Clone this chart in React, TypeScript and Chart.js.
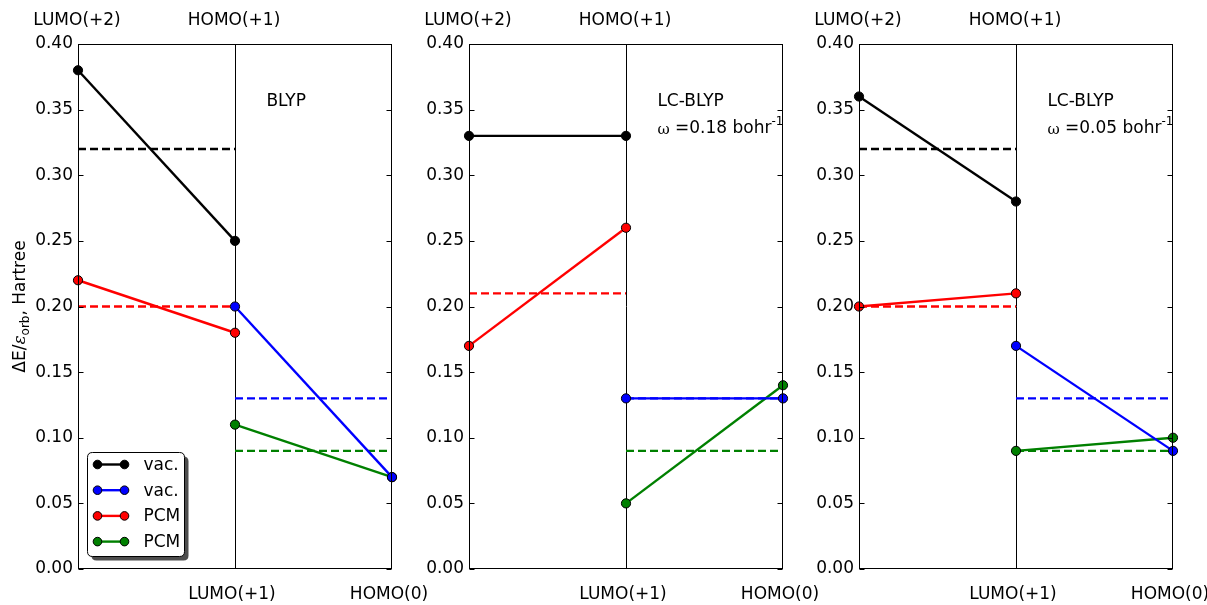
import React, { useEffect, useRef } from "react";
import { Chart, registerables } from "chart.js";

Chart.register(...registerables);

// ---------- data ----------
const X_TOP_TICKS = [0, 1];
const X_TOP_LABELS = ["LUMO(+2)", "HOMO(+1)"];
const X_BOTTOM_TICKS = [1, 2];
const X_BOTTOM_LABELS = ["LUMO(+1)", "HOMO(0)"];
const Y_TICKS = [0, 0.05, 0.1, 0.15, 0.2, 0.25, 0.3, 0.35, 0.4];

const LEFT_X = [0, 1]; // LUMO(+2) -> HOMO(+1)
const RIGHT_X = [1, 2]; // LUMO(+1) -> HOMO(0)
const DIVIDER_X = 1;

const PANEL_TITLES = ["BLYP", "LC-BLYP", "LC-BLYP"];
const PANEL_OMEGA = ["", "0.18", "0.05"];

// solid series (one pair of values per panel)
const VAC_BLACK = [
  [0.38, 0.25],
  [0.33, 0.33],
  [0.36, 0.28],
];
const VAC_BLUE = [
  [0.2, 0.07],
  [0.13, 0.13],
  [0.17, 0.09],
];
const PCM_RED = [
  [0.22, 0.18],
  [0.17, 0.26],
  [0.2, 0.21],
];
const PCM_GREEN = [
  [0.11, 0.07],
  [0.05, 0.14],
  [0.09, 0.1],
];

// dashed reference levels per panel (null = none)
const REF_BLACK = [0.32, null, 0.32];
const REF_BLUE = [0.13, 0.13, 0.13];
const REF_RED = [0.2, 0.21, 0.2];
const REF_GREEN = [0.09, 0.09, 0.09];

const BLACK = "#000000";
const BLUE = "#0000ff";
const RED = "#ff0000";
const GREEN = "#008000";

const FONT = "DejaVu Sans";
const FS = 17;
const LW = 2.4;

// ---------- layout ----------
const CANVAS_LEFTS = [0, 391, 781];
const CANVAS_W = 430;
const CANVAS_H = 605;

const decorPlugin = {
  id: "decor",
  beforeDatasetsDraw(chart: any) {
    const { ctx, chartArea: a, scales } = chart;
    const x1 = Math.round(scales.x.getPixelForValue(DIVIDER_X)) + 0.5;
    ctx.save();
    ctx.strokeStyle = "#000";
    ctx.lineWidth = 1;
    ctx.beginPath();
    ctx.moveTo(x1, a.top);
    ctx.lineTo(x1, a.bottom);
    ctx.stroke();
    ctx.restore();
  },
  afterDatasetsDraw(chart: any, _args: any, opts: any) {
    const { ctx, chartArea: a, scales } = chart;
    const L = Math.round(a.left) + 0.5;
    const R = Math.round(a.right) - 0.5;
    const T = Math.round(a.top) + 0.5;
    const B = Math.round(a.bottom) - 0.5;
    ctx.save();
    ctx.strokeStyle = "#000";
    ctx.lineWidth = 1;
    ctx.strokeRect(L, T, R - L, B - T);
    // inward ticks left and right
    ctx.beginPath();
    for (const v of Y_TICKS) {
      const y = Math.round(scales.y.getPixelForValue(v)) + 0.5;
      ctx.moveTo(L, y);
      ctx.lineTo(L + 5, y);
      ctx.moveTo(R, y);
      ctx.lineTo(R - 5, y);
    }
    ctx.stroke();

    // annotation
    const tx = scales.x.getPixelForValue(1.2);
    ctx.fillStyle = "#000";
    ctx.textBaseline = "middle";
    ctx.textAlign = "left";
    ctx.font = `${FS}px ${FONT}`;
    ctx.fillText(opts.title, tx, scales.y.getPixelForValue(0.356));
    if (opts.omega) {
      const y2 = scales.y.getPixelForValue(0.3355);
      let x = tx;
      const pieces = [
        { t: "\u03c9", f: `15px DejaVu Serif`, dy: 1 },
        { t: " =" + opts.omega + " bohr", f: `${FS}px ${FONT}`, dy: 0 },
        { t: "-1", f: `12px ${FONT}`, dy: -7 },
      ];
      for (const p of pieces) {
        ctx.font = p.f;
        ctx.fillText(p.t, x, y2 + p.dy);
        x += ctx.measureText(p.t).width;
      }
    }

    // y title
    if (opts.yTitle) {
      const pieces = [
        { t: "\u0394E/", f: `${FS}px ${FONT}`, dy: 0 },
        { t: "\u03b5", f: `italic ${FS}px DejaVu Serif`, dy: 0 },
        { t: "orb", f: `12px ${FONT}`, dy: 5 },
        { t: ", Hartree", f: `${FS}px ${FONT}`, dy: 0 },
      ];
      let total = 0;
      for (const p of pieces) {
        ctx.font = p.f;
        total += ctx.measureText(p.t).width;
      }
      ctx.translate(21, (a.top + a.bottom) / 2);
      ctx.rotate(-Math.PI / 2);
      let x = -total / 2;
      for (const p of pieces) {
        ctx.font = p.f;
        ctx.fillText(p.t, x, p.dy);
        x += ctx.measureText(p.t).width;
      }
      ctx.setTransform(1, 0, 0, 1, 0, 0);
    }
    ctx.restore();

    // legend
    if (opts.legend) {
      const bx = Math.round(a.left) + 9.5;
      const by = Math.round(a.bottom) - 116.5;
      const bw = 97;
      const bh = 104;
      ctx.save();
      const rr = (x: number, y: number, w: number, h: number, r: number) => {
        ctx.beginPath();
        ctx.moveTo(x + r, y);
        ctx.lineTo(x + w - r, y);
        ctx.quadraticCurveTo(x + w, y, x + w, y + r);
        ctx.lineTo(x + w, y + h - r);
        ctx.quadraticCurveTo(x + w, y + h, x + w - r, y + h);
        ctx.lineTo(x + r, y + h);
        ctx.quadraticCurveTo(x, y + h, x, y + h - r);
        ctx.lineTo(x, y + r);
        ctx.quadraticCurveTo(x, y, x + r, y);
        ctx.closePath();
      };
      rr(bx + 4, by + 4, bw, bh, 5);
      ctx.fillStyle = "#4d4d4d";
      ctx.fill();
      rr(bx, by, bw, bh, 5);
      ctx.fillStyle = "#fff";
      ctx.fill();
      ctx.strokeStyle = "#000";
      ctx.lineWidth = 1;
      ctx.stroke();
      const items = chart.data.datasets.filter((d: any) => d.inLegend);
      items.forEach((d: any, i: number) => {
        const y = by + 12 + i * 25.7;
        const x0 = bx + 10;
        const x1 = bx + 37;
        ctx.strokeStyle = d.borderColor;
        ctx.lineWidth = LW;
        ctx.beginPath();
        ctx.moveTo(x0, y);
        ctx.lineTo(x1, y);
        ctx.stroke();
        for (const xx of [x0, x1]) {
          ctx.beginPath();
          ctx.arc(xx, y, 4.3, 0, Math.PI * 2);
          ctx.fillStyle = d.pointBackgroundColor;
          ctx.fill();
          ctx.strokeStyle = "#000";
          ctx.lineWidth = 1;
          ctx.stroke();
        }
        ctx.fillStyle = "#000";
        ctx.font = `${FS}px ${FONT}`;
        ctx.textAlign = "left";
        ctx.textBaseline = "middle";
        ctx.fillText(d.label, bx + 56, y + 1);
      });
      ctx.restore();
    }
  },
};

function solid(label: string, color: string, xs: number[], ys: number[]) {
  return {
    label,
    inLegend: true,
    data: xs.map((x, i) => ({ x, y: ys[i] })),
    showLine: true,
    borderColor: color,
    backgroundColor: color,
    borderWidth: LW,
    pointRadius: 4.6,
    pointHoverRadius: 4.6,
    pointBackgroundColor: color,
    pointBorderColor: "#000",
    pointBorderWidth: 1,
    clip: false,
  };
}

function dashed(color: string, xs: number[], level: number | null) {
  return {
    label: "ref",
    inLegend: false,
    data: level === null ? [] : xs.map((x) => ({ x, y: level })),
    showLine: true,
    borderColor: color,
    backgroundColor: color,
    borderWidth: LW,
    borderDash: [8, 4],
    pointRadius: 0,
    clip: false,
  };
}

function Panel({ idx }: { idx: number }) {
  const ref = useRef<HTMLCanvasElement | null>(null);
  useEffect(() => {
    if (!ref.current) return;
    const tickFont = { family: FONT, size: FS };
    const chart = new Chart(ref.current, {
      type: "scatter",
      data: {
        datasets: [
          solid("vac.", BLACK, LEFT_X, VAC_BLACK[idx]),
          solid("vac.", BLUE, RIGHT_X, VAC_BLUE[idx]),
          solid("PCM", RED, LEFT_X, PCM_RED[idx]),
          solid("PCM", GREEN, RIGHT_X, PCM_GREEN[idx]),
          dashed(BLACK, LEFT_X, REF_BLACK[idx]),
          dashed(BLUE, RIGHT_X, REF_BLUE[idx]),
          dashed(RED, LEFT_X, REF_RED[idx]),
          dashed(GREEN, RIGHT_X, REF_GREEN[idx]),
        ] as any,
      },
      options: {
        responsive: false,
        animation: false,
        events: [],
        layout: { padding: { left: 0, right: 38, top: 0, bottom: 0 } },
        plugins: {
          legend: { display: false },
          tooltip: { enabled: false },
          decor: {
            title: PANEL_TITLES[idx],
            omega: PANEL_OMEGA[idx],
            legend: idx === 0,
            yTitle: idx === 0,
          },
        } as any,
        scales: {
          x: {
            type: "linear",
            position: "bottom",
            min: 0,
            max: 2,
            grid: { display: false, drawTicks: false },
            border: { display: false },
            afterBuildTicks: (s: any) => {
              s.ticks = X_BOTTOM_TICKS.map((v) => ({ value: v }));
            },
            ticks: {
              autoSkip: false,
              maxRotation: 0,
              minRotation: 0,
              padding: 15,
              labelOffset: -3,
              color: "#000",
              font: tickFont,
              callback: (_v: any, i: number) => X_BOTTOM_LABELS[i],
            },
            afterFit: (s: any) => {
              s.height = 36;
              s.paddingLeft = 0;
              s.paddingRight = 0;
            },
          },
          xTop: {
            type: "linear",
            position: "top",
            min: 0,
            max: 2,
            grid: { display: false, drawTicks: false },
            border: { display: false },
            afterBuildTicks: (s: any) => {
              s.ticks = X_TOP_TICKS.map((v) => ({ value: v }));
            },
            ticks: {
              autoSkip: false,
              maxRotation: 0,
              minRotation: 0,
              padding: 13,
              labelOffset: -1,
              color: "#000",
              font: tickFont,
              callback: (_v: any, i: number) => X_TOP_LABELS[i],
            },
            afterFit: (s: any) => {
              s.height = 44;
              s.paddingLeft = 0;
              s.paddingRight = 0;
            },
          },
          y: {
            type: "linear",
            position: "left",
            min: 0,
            max: 0.4,
            grid: { display: false, drawTicks: false },
            border: { display: false },
            afterBuildTicks: (s: any) => {
              s.ticks = Y_TICKS.map((v) => ({ value: v }));
            },
            ticks: {
              padding: 5,
              color: "#000",
              font: tickFont,
              callback: (v: any) => Number(v).toFixed(2),
            },
            afterFit: (s: any) => {
              s.width = 78;
              s.paddingTop = 0;
              s.paddingBottom = 0;
            },
          },
        } as any,
      },
      plugins: [decorPlugin],
    });
    return () => chart.destroy();
  }, [idx]);
  return (
    <canvas
      ref={ref}
      width={CANVAS_W}
      height={CANVAS_H}
      style={{
        position: "absolute",
        left: CANVAS_LEFTS[idx],
        top: 0,
        width: CANVAS_W,
        height: CANVAS_H,
      }}
    />
  );
}

export default function App() {
  return (
    <div
      style={{
        position: "absolute",
        left: 0,
        top: 0,
        width: 1207,
        height: 605,
        overflow: "hidden",
        background: "#fff",
      }}
    >
      {[0, 1, 2].map((i) => (
        <Panel key={i} idx={i} />
      ))}
    </div>
  );
}
